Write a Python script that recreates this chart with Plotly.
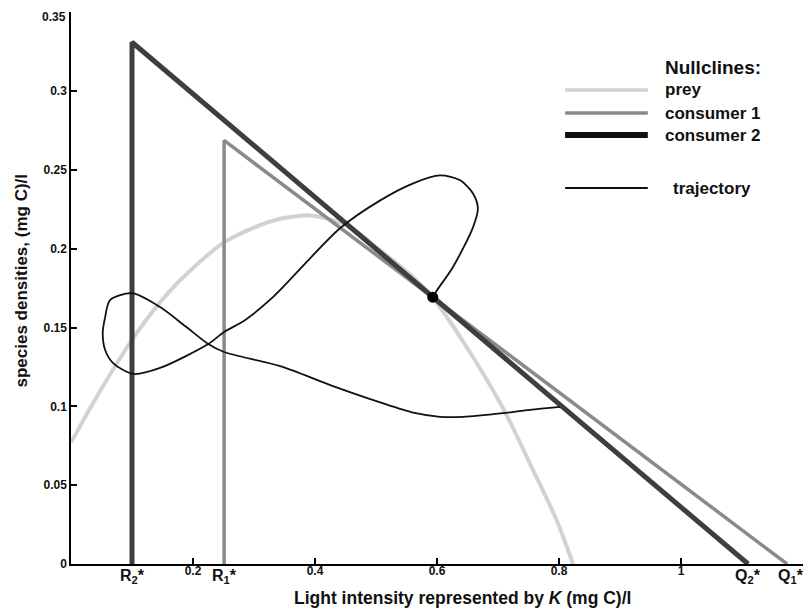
import plotly.graph_objects as go

# ---------------- data ----------------
prey_K = [0.0, 0.036, 0.098, 0.146, 0.179, 0.251, 0.310, 0.343, 0.375, 0.397,
          0.452, 0.507, 0.561, 0.593, 0.643, 0.708, 0.752, 0.797, 0.823]
prey_v = [0.077, 0.102, 0.141, 0.166, 0.180, 0.204, 0.215, 0.219, 0.221, 0.221,
          0.215, 0.199, 0.182, 0.169, 0.141, 0.099, 0.064, 0.027, 0.0]

cons1_K = [0.251, 0.251, 1.174]
cons1_v = [0.0, 0.2687, 0.0]

cons2_K = [0.100, 0.100, 1.110]
cons2_v = [0.0, 0.331, 0.0]

traj_K = [0.802, 0.752, 0.708, 0.643, 0.605, 0.561, 0.507, 0.425, 0.343, 0.251,
          0.225, 0.187, 0.146, 0.100, 0.064, 0.056, 0.052, 0.056, 0.069, 0.102,
          0.146, 0.225, 0.251, 0.285, 0.331, 0.441, 0.507, 0.561, 0.605, 0.638,
          0.659, 0.667, 0.659, 0.626, 0.600, 0.593]
traj_v = [0.0997, 0.0978, 0.0957, 0.0934, 0.0934, 0.0960, 0.1025, 0.1135, 0.1255, 0.1345,
          0.1396, 0.1510, 0.1630, 0.1718, 0.1674, 0.1566, 0.1465, 0.1358, 0.1275, 0.1206,
          0.1244, 0.1396, 0.1472, 0.1547, 0.1693, 0.2130, 0.2307, 0.2415, 0.2465, 0.2434,
          0.2351, 0.2256, 0.2136, 0.1883, 0.1737, 0.1693]

equil_K = [0.593]
equil_v = [0.1693]

x_tick_vals = [0.2, 0.4, 0.6, 0.8, 1.0]
x_tick_text = ["0.2", "0.4", "0.6", "0.8", "1"]
y_tick_vals = [0, 0.05, 0.1, 0.15, 0.2, 0.25, 0.3, 0.35]
y_tick_text = ["0", "0.05", "0.1", "0.15", "0.2", "0.25", "0.3", "0.35"]

star_vals = [0.100, 0.251, 1.110, 1.174]
star_text = ["R<sub>2</sub>*", "R<sub>1</sub>*", "Q<sub>2</sub>*", "Q<sub>1</sub>*"]

legend_title = "Nullclines:"
legend_labels = ["prey", "consumer 1", "consumer 2", "trajectory"]

x_title = "Light intensity represented by <i>K</i> (mg C)/l"
y_title = "species densities, (mg C)/l"

# ---------------- styles ----------------
FONT = "Liberation Sans, Arial, Helvetica, sans-serif"
C_PREY = "#d2d2d2"
C_C1 = "#8a8a8a"
C_C2 = "#3e3e3e"
C_TRAJ = "#111111"
TICKFONT = dict(family=FONT, size=12, color="#111", weight="bold")

fig = go.Figure()
fig.add_trace(go.Scatter(x=prey_K, y=prey_v, mode="lines",
                         line=dict(color=C_PREY, width=4, shape="spline", smoothing=0.8),
                         showlegend=False, hoverinfo="skip"))
fig.add_trace(go.Scatter(x=cons1_K, y=cons1_v, mode="lines",
                         line=dict(color=C_C1, width=3.5),
                         showlegend=False, hoverinfo="skip"))
fig.add_trace(go.Scatter(x=cons2_K, y=cons2_v, mode="lines",
                         line=dict(color=C_C2, width=5),
                         showlegend=False, hoverinfo="skip"))
fig.add_trace(go.Scatter(x=traj_K, y=traj_v, mode="lines",
                         line=dict(color=C_TRAJ, width=1.8, shape="spline", smoothing=0.8),
                         showlegend=False, hoverinfo="skip"))
fig.add_trace(go.Scatter(x=equil_K, y=equil_v, mode="markers",
                         marker=dict(color="black", size=11),
                         showlegend=False, hoverinfo="skip"))

# special tick labels (R*, Q*)
for i, (v, t) in enumerate(zip(star_vals, star_text)):
    fig.add_annotation(x=v, y=0, xref="x", yref="y", text=t, showarrow=False,
                       xanchor="center", yanchor="top", yshift=-1,
                       xshift=4 if i == 3 else 0,
                       font=dict(family=FONT, size=16, color="#111", weight="bold"))

# top y tick label (kept inside the page: drawn just below the tick)
fig.add_annotation(x=0, y=y_tick_vals[-1], xref="paper", yref="y", text=y_tick_text[-1],
                   showarrow=False, xanchor="right", yanchor="top", xshift=-3, yshift=4,
                   font=TICKFONT)

# axis titles
fig.add_annotation(x=0.535, y=-0.062, xref="paper", yref="paper", text=x_title,
                   showarrow=False, xanchor="center", yanchor="middle",
                   font=dict(family=FONT, size=17.5, color="#111", weight="bold"))
fig.add_annotation(x=-0.068, y=0.514, xref="paper", yref="paper", text=y_title,
                   showarrow=False, textangle=-90, xanchor="center", yanchor="middle",
                   font=dict(family=FONT, size=17, color="#111", weight="bold"))

# manual legend
lx0, lx1, ltx = 0.675, 0.788, 0.809
legend_y = [0.8587, 0.817, 0.777, 0.681]
legend_style = [(C_PREY, 3.5), (C_C1, 3.5), ("#111111", 6), (C_TRAJ, 2)]
fig.add_annotation(x=ltx, y=0.900, xref="paper", yref="paper", text=legend_title,
                   showarrow=False, xanchor="left", yanchor="middle",
                   font=dict(family=FONT, size=19, color="#111", weight="bold"))
for i, (lab, yy, (col, w)) in enumerate(zip(legend_labels, legend_y, legend_style)):
    fig.add_shape(type="line", xref="paper", yref="paper", x0=lx0, x1=lx1, y0=yy, y1=yy,
                  line=dict(color=col, width=w))
    fig.add_annotation(x=ltx + (0.011 if i == 3 else 0), y=yy, xref="paper", yref="paper",
                       text=lab, showarrow=False, xanchor="left", yanchor="middle",
                       font=dict(family=FONT, size=17, color="#111", weight="bold"))

# the page body has an 8px default margin, so the figure is 8px smaller
fig.update_layout(
    width=803, height=603,
    margin=dict(l=63, r=8, t=4, b=47),
    paper_bgcolor="white", plot_bgcolor="white",
    font=dict(family=FONT, color="#111"),
    xaxis=dict(range=[0, 1.2], showgrid=False, zeroline=False,
               showline=True, linecolor="black", linewidth=1.5,
               ticks="inside", ticklen=6, tickwidth=1.5, tickcolor="black",
               tickvals=x_tick_vals, ticktext=x_tick_text, ticklabelstandoff=-5,
               tickfont=TICKFONT, automargin=False),
    yaxis=dict(range=[0, 0.3502], showgrid=False, zeroline=False,
               showline=True, linecolor="black", linewidth=1.5,
               ticks="inside", ticklen=6, tickwidth=1.5, tickcolor="black",
               tickvals=y_tick_vals, ticktext=y_tick_text[:-1] + [""],
               tickfont=TICKFONT, automargin=False),
)

fig.write_html("out.html")
